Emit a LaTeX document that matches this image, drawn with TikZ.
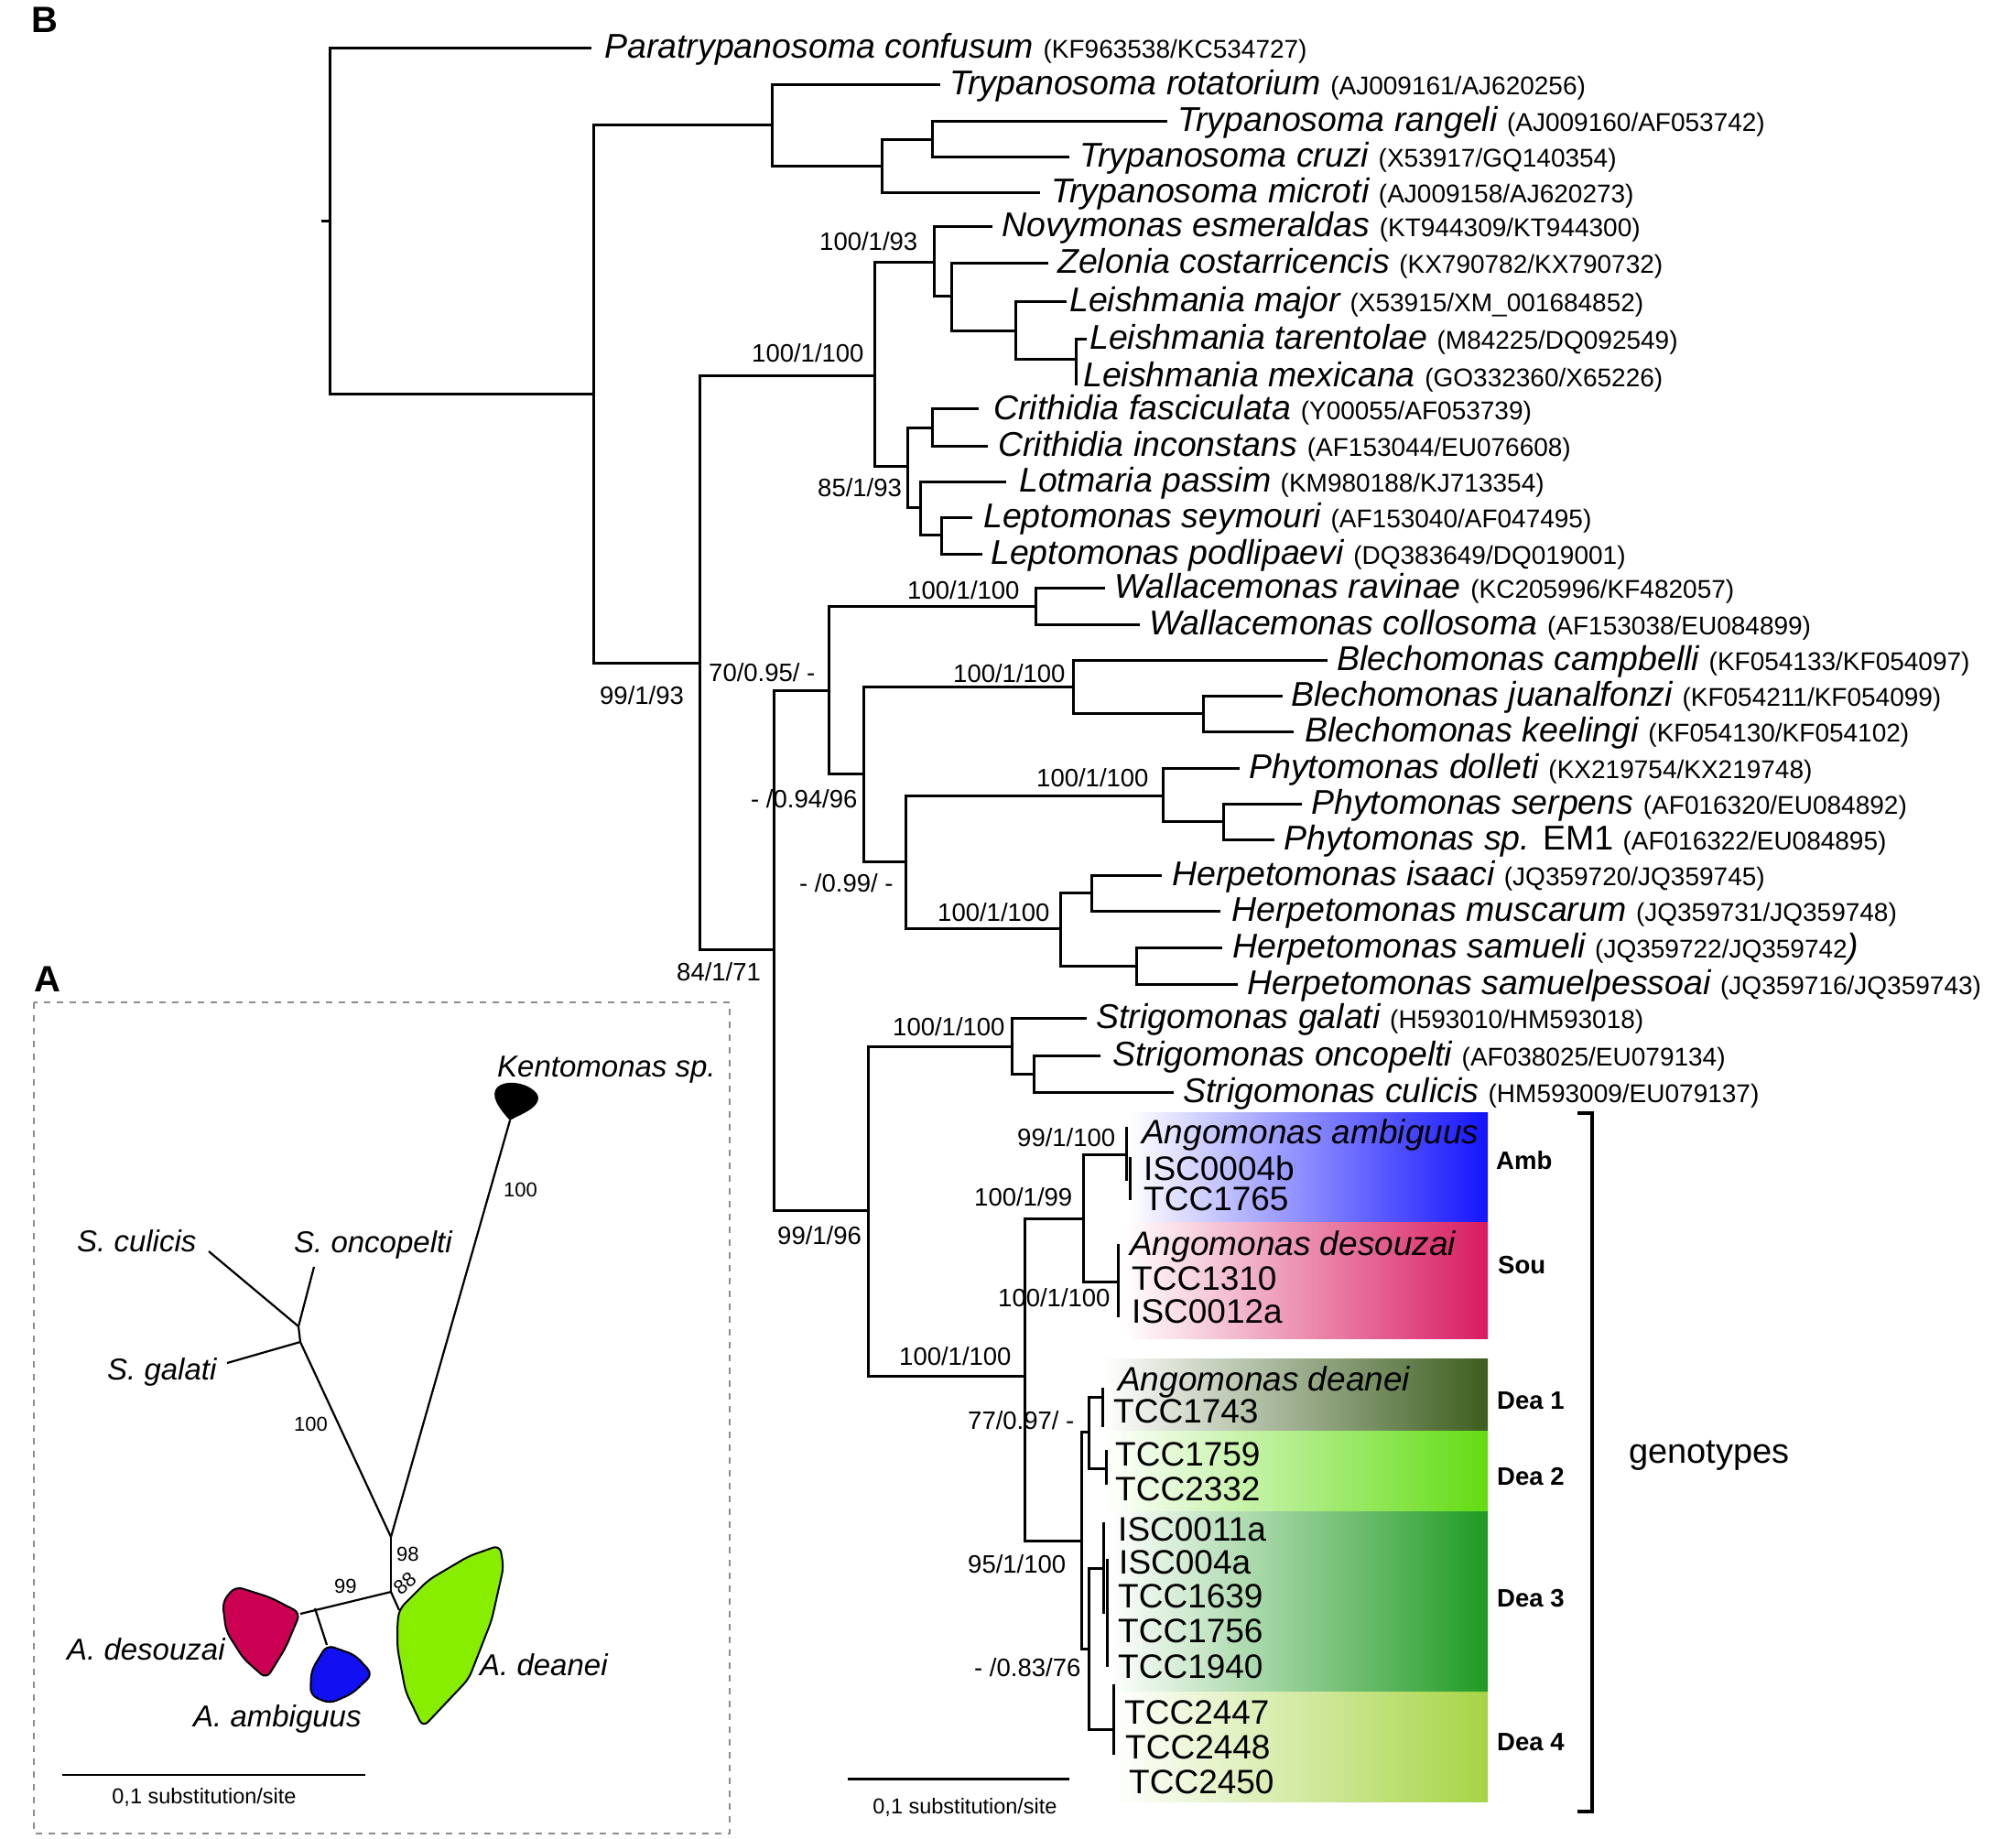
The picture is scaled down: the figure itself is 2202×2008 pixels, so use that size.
\documentclass[tikz,border=0pt]{standalone}
\usepackage{fontspec}
\setmainfont{Liberation Sans}
\newcommand\SpF{\fontsize{37.5}{42}\selectfont\itshape}
\newcommand\AcF{\fontsize{28}{32}\selectfont\upshape}
\newcommand\SupF{\fontsize{27.5}{30}\selectfont}
\newcommand\StrF{\fontsize{37}{40}\selectfont}
\newcommand\BoxLabF{\fontsize{27.5}{30}\selectfont\bfseries}
\newcommand\ApF{\fontsize{33}{36}\selectfont\itshape}
\newcommand\AnF{\fontsize{22}{24}\selectfont}
\newcommand\ScF{\fontsize{23.5}{26}\selectfont}
\definecolor{cAmb}{HTML}{1414FF}
\definecolor{cSou}{HTML}{D81B60}
\definecolor{cDeaA}{HTML}{3D5E1F}
\definecolor{cDeaB}{HTML}{62DC12}
\definecolor{cDeaC}{HTML}{1F9A22}
\definecolor{cDeaD}{HTML}{A6D445}
\definecolor{bDes}{HTML}{CC0052}
\definecolor{bAmb}{HTML}{1010F0}
\definecolor{bDea}{HTML}{88EE00}
\tikzset{
  br/.style={line width=3pt, line join=miter},
  abr/.style={line width=2.2pt, line join=round},
  leaflab/.style={anchor=base west, inner sep=0pt, yshift=-11pt},
  suplab/.style={anchor=base west, inner sep=0pt, yshift=-10pt, font=\SupF},
  strain/.style={anchor=base west, inner sep=0pt, font=\StrF},
  boxlab/.style={anchor=base west, inner sep=0pt, yshift=-10pt, font=\BoxLabF},
  aspec/.style={anchor=base west, inner sep=0pt, font=\ApF},
  anum/.style={anchor=base west, inner sep=0pt, font=\AnF},
  blob/.style={draw=black, line width=2pt, rounded corners=8pt},
}
\begin{document}
\begin{tikzpicture}[x=1pt,y=-1pt]
\useasboundingbox (0,0) rectangle (2202,2008);

% ---------- panel labels
\node[font=\fontsize{40}{40}\selectfont\bfseries, inner sep=0pt] (labB) at (49,22) {B};
\node[font=\fontsize{40}{40}\selectfont\bfseries, inner sep=0pt] (labA) at (52,1070) {A};

% ---------- genotype boxes
\shade[left color=white,right color=cAmb] (1233,1215) rectangle (1625,1334);
\shade[left color=white,right color=cSou] (1228,1335) rectangle (1625,1462);
\shade[left color=white,right color=cDeaA] (1205,1484) rectangle (1625,1563);
\shade[left color=white,right color=cDeaB] (1208,1563) rectangle (1625,1651);
\shade[left color=white,right color=cDeaC] (1212,1651) rectangle (1625,1848);
\shade[left color=white,right color=cDeaD] (1218,1848) rectangle (1625,1968);

% ---------- tree B coordinates
\coordinate (root) at (360,241);
\coordinate (rtick) at (351,241);
\coordinate (para) at (646,52);
\coordinate (n1) at (648,430);
\coordinate (nT) at (843,136);
\coordinate (rot) at (1027,92);
\coordinate (nT2) at (963,181);
\coordinate (nT3) at (1018,152);
\coordinate (ran) at (1275,132);
\coordinate (cru) at (1168,171);
\coordinate (mic) at (1136,210);
\coordinate (nL) at (764,724);
\coordinate (nLe) at (955,410);
\coordinate (nNZ) at (1020,286);
\coordinate (nov) at (1084,247);
\coordinate (nZL) at (1039,323);
\coordinate (zel) at (1145,287);
\coordinate (nLs) at (1109,361);
\coordinate (maj) at (1165,329);
\coordinate (nLt) at (1175,392);
\coordinate (tar) at (1187,370);
\coordinate (mex) at (1175,421);
\coordinate (nCL) at (991,509);
\coordinate (nCr) at (1018,467);
\coordinate (fas) at (1069,446);
\coordinate (inc) at (1079,487);
\coordinate (nLP) at (1005,554);
\coordinate (lot) at (1099,526);
\coordinate (nLep) at (1028,584);
\coordinate (sey) at (1062,565);
\coordinate (pod) at (1073,605);
\coordinate (nR) at (845,1037);
\coordinate (nWBP) at (905,754);
\coordinate (nW) at (1131,662);
\coordinate (rav) at (1207,642);
\coordinate (col) at (1245,682);
\coordinate (nBP) at (943,845);
\coordinate (nB) at (1172,750);
\coordinate (cam) at (1450,721);
\coordinate (nB2) at (1314,779);
\coordinate (jua) at (1401,760);
\coordinate (kee) at (1413,799);
\coordinate (nPH) at (989,941);
\coordinate (nP) at (1270,869);
\coordinate (dol) at (1354,839);
\coordinate (nP2) at (1336,897);
\coordinate (ser) at (1422,878);
\coordinate (em) at (1392,917);
\coordinate (nH) at (1158,1014);
\coordinate (nH1) at (1192,975);
\coordinate (isa) at (1269,956);
\coordinate (mus) at (1333,995);
\coordinate (nH2) at (1241,1055);
\coordinate (sam) at (1335,1035);
\coordinate (pes) at (1352,1075);
\coordinate (nSA) at (948,1322);
\coordinate (nS) at (1105,1143);
\coordinate (gal) at (1187,1112);
\coordinate (nS2) at (1129,1173);
\coordinate (onc) at (1202,1153);
\coordinate (cul) at (1282,1193);
\coordinate (nA) at (1119,1503);
\coordinate (nAS) at (1183,1331);
\coordinate (nAmb) at (1230,1261);
\coordinate (nSou) at (1221,1400);
\coordinate (nD) at (1181,1683);
\coordinate (nD12) at (1189,1564);
\coordinate (nD34) at (1189,1801);
\coordinate (nD1) at (1204,1526);
\coordinate (nD2) at (1208,1604);
\coordinate (nD3) at (1204,1713);
\coordinate (nD4) at (1216,1889);

% ---------- tree B branches
\draw[br] (rtick) -- (root);
\draw[br] (root) |- (para);
\draw[br] (root) |- (n1);
\draw[br] (n1) |- (nT);
\draw[br] (n1) |- (nL);
\draw[br] (nT) |- (rot);
\draw[br] (nT) |- (nT2);
\draw[br] (nT2) |- (nT3);
\draw[br] (nT2) |- (mic);
\draw[br] (nT3) |- (ran);
\draw[br] (nT3) |- (cru);
\draw[br] (nL) |- (nLe);
\draw[br] (nL) |- (nR);
\draw[br] (nLe) |- (nNZ);
\draw[br] (nLe) |- (nCL);
\draw[br] (nNZ) |- (nov);
\draw[br] (nNZ) |- (nZL);
\draw[br] (nZL) |- (zel);
\draw[br] (nZL) |- (nLs);
\draw[br] (nLs) |- (maj);
\draw[br] (nLs) |- (nLt);
\draw[br] (nLt) |- (tar);
\draw[br] (nLt) -- (mex);
\draw[br] (nCL) |- (nCr);
\draw[br] (nCL) |- (nLP);
\draw[br] (nCr) |- (fas);
\draw[br] (nCr) |- (inc);
\draw[br] (nLP) |- (lot);
\draw[br] (nLP) |- (nLep);
\draw[br] (nLep) |- (sey);
\draw[br] (nLep) |- (pod);
\draw[br] (nR) |- (nWBP);
\draw[br] (nR) |- (nSA);
\draw[br] (nWBP) |- (nW);
\draw[br] (nWBP) |- (nBP);
\draw[br] (nW) |- (rav);
\draw[br] (nW) |- (col);
\draw[br] (nBP) |- (nB);
\draw[br] (nBP) |- (nPH);
\draw[br] (nB) |- (cam);
\draw[br] (nB) |- (nB2);
\draw[br] (nB2) |- (jua);
\draw[br] (nB2) |- (kee);
\draw[br] (nPH) |- (nP);
\draw[br] (nPH) |- (nH);
\draw[br] (nP) |- (dol);
\draw[br] (nP) |- (nP2);
\draw[br] (nP2) |- (ser);
\draw[br] (nP2) |- (em);
\draw[br] (nH) |- (nH1);
\draw[br] (nH) |- (nH2);
\draw[br] (nH1) |- (isa);
\draw[br] (nH1) |- (mus);
\draw[br] (nH2) |- (sam);
\draw[br] (nH2) |- (pes);
\draw[br] (nSA) |- (nS);
\draw[br] (nSA) |- (nA);
\draw[br] (nS) |- (gal);
\draw[br] (nS) |- (nS2);
\draw[br] (nS2) |- (onc);
\draw[br] (nS2) |- (cul);
\draw[br] (nA) |- (nAS);
\draw[br] (nA) |- (nD);
\draw[br] (nAS) |- (nAmb);
\draw[br] (nAS) |- (nSou);
\draw[br] (nD) |- (nD12);
\draw[br] (nD) |- (nD34);
\draw[br] (nD12) |- (nD1);
\draw[br] (nD12) |- (nD2);
\draw[br] (nD34) |- (nD3);
\draw[br] (nD34) |- (nD4);
% collapsed terminal groups
\draw[br] ([yshift=-29pt]nAmb) -- ([yshift=30pt]nAmb);
\draw[br] (1234,1264) -- (1234,1311);
\draw[br] ([yshift=-39pt]nSou) -- ([yshift=41pt]nSou);
\draw[br] ([yshift=-33pt]nD1) -- ([yshift=10pt]nD1);
\draw[br] ([yshift=-18pt]nD2) -- ([yshift=20pt]nD2);
\draw[br] (1205,1663) -- (1205,1763);
\draw[br] (1209,1703) -- (1209,1821);
\draw[br] ([yshift=-28pt]nD4) -- ([yshift=49pt]nD4);

% ---------- leaf labels
\node[leaflab] (lPara) at (660,52) {\SpF Paratrypanosoma confusum \AcF(KF963538/KC534727)};
\node[leaflab] (lRot) at (1037,92) {\SpF Trypanosoma rotatorium \AcF(AJ009161/AJ620256)};
\node[leaflab] (lRan) at (1286,132) {\SpF Trypanosoma rangeli \AcF(AJ009160/AF053742)};
\node[leaflab] (lCru) at (1179,171) {\SpF Trypanosoma cruzi \AcF(X53917/GQ140354)};
\node[leaflab] (lMic) at (1148,210) {\SpF Trypanosoma microti \AcF(AJ009158/AJ620273)};
\node[leaflab] (lNov) at (1094,247) {\SpF Novymonas esmeraldas \AcF(KT944309/KT944300)};
\node[leaflab] (lZel) at (1155,287) {\SpF Zelonia costarricencis \AcF(KX790782/KX790732)};
\node[leaflab] (lMaj) at (1168,329) {\SpF Leishmania major \AcF(X53915/XM\_001684852)};
\node[leaflab] (lTar) at (1190,370) {\SpF Leishmania tarentolae \AcF(M84225/DQ092549)};
\node[leaflab] (lMex) at (1183,411) {\SpF Leishmania mexicana \AcF(GO332360/X65226)};
\node[leaflab] (lFas) at (1085,447) {\SpF Crithidia fasciculata \AcF(Y00055/AF053739)};
\node[leaflab] (lInc) at (1090,487) {\SpF Crithidia inconstans \AcF(AF153044/EU076608)};
\node[leaflab] (lLot) at (1113,526) {\SpF Lotmaria passim \AcF(KM980188/KJ713354)};
\node[leaflab] (lSey) at (1074,565) {\SpF Leptomonas seymouri \AcF(AF153040/AF047495)};
\node[leaflab] (lPod) at (1082,605) {\SpF Leptomonas podlipaevi \AcF(DQ383649/DQ019001)};
\node[leaflab] (lRav) at (1217,642) {\SpF Wallacemonas ravinae \AcF(KC205996/KF482057)};
\node[leaflab] (lCol) at (1255,682) {\SpF Wallacemonas collosoma \AcF(AF153038/EU084899)};
\node[leaflab] (lCam) at (1460,721) {\SpF Blechomonas campbelli \AcF(KF054133/KF054097)};
\node[leaflab] (lJua) at (1410,760) {\SpF Blechomonas juanalfonzi \AcF(KF054211/KF054099)};
\node[leaflab] (lKee) at (1425,799) {\SpF Blechomonas keelingi \AcF(KF054130/KF054102)};
\node[leaflab] (lDol) at (1364,839) {\SpF Phytomonas dolleti \AcF(KX219754/KX219748)};
\node[leaflab] (lSer) at (1432,878) {\SpF Phytomonas serpens \AcF(AF016320/EU084892)};
\node[leaflab] (lEm) at (1402,917) {\SpF Phytomonas sp. \upshape EM1 \AcF(AF016322/EU084895)};
\node[leaflab] (lIsa) at (1280,956) {\SpF Herpetomonas isaaci \AcF(JQ359720/JQ359745)};
\node[leaflab] (lMus) at (1345,995) {\SpF Herpetomonas muscarum \AcF(JQ359731/JQ359748)};
\node[leaflab] (lSam) at (1346,1035) {\SpF Herpetomonas samueli \AcF(JQ359722/JQ359742{\SpF)}};
\node[leaflab] (lPes) at (1362,1075) {\SpF Herpetomonas samuelpessoai \AcF(JQ359716/JQ359743)};
\node[leaflab] (lGal) at (1197,1112) {\SpF Strigomonas galati \AcF(H593010/HM593018)};
\node[leaflab] (lOnc) at (1215,1153) {\SpF Strigomonas oncopelti \AcF(AF038025/EU079134)};
\node[leaflab] (lCul) at (1292,1193) {\SpF Strigomonas culicis \AcF(HM593009/EU079137)};

% ---------- strain labels in boxes
\node[strain] (sA0) at (1247,1249) {\itshape Angomonas ambiguus};
\node[strain] (sA1) at (1249,1289) {ISC0004b};
\node[strain] (sA2) at (1249,1322) {TCC1765};
\node[strain] (sS0) at (1234,1371) {\itshape Angomonas desouzai};
\node[strain] (sS1) at (1236,1409) {TCC1310};
\node[strain] (sS2) at (1236,1445) {ISC0012a};
\node[strain] (sD0) at (1221,1519) {\itshape Angomonas deanei};
\node[strain] (sD1) at (1216,1554) {TCC1743};
\node[strain] (sD2) at (1218,1601) {TCC1759};
\node[strain] (sD3) at (1218,1639) {TCC2332};
\node[strain] (sD4) at (1221,1683) {ISC0011a};
\node[strain] (sD5) at (1222,1719) {ISC004a};
\node[strain] (sD6) at (1221,1756) {TCC1639};
\node[strain] (sD7) at (1221,1794) {TCC1756};
\node[strain] (sD8) at (1221,1833) {TCC1940};
\node[strain] (sD9) at (1228,1883) {TCC2447};
\node[strain] (sD10) at (1229,1921) {TCC2448};
\node[strain] (sD11) at (1233,1959) {TCC2450};

% ---------- box labels and bracket
\node[boxlab] (bAmb) at (1634,1267) {Amb};
\node[boxlab] (bSou) at (1636,1381) {Sou};
\node[boxlab] (bD1) at (1635,1529) {Dea 1};
\node[boxlab] (bD2) at (1635,1612) {Dea 2};
\node[boxlab] (bD3) at (1635,1745) {Dea 3};
\node[boxlab] (bD4) at (1635,1902) {Dea 4};
\coordinate (brT0) at (1723,1216);
\coordinate (brT) at (1739,1216);
\coordinate (brB) at (1739,1979);
\coordinate (brB0) at (1723,1979);
\draw[line width=3.5pt, line join=miter] (brT0) -- (brT) -- (brB) -- (brB0);
\node[anchor=base west, inner sep=0pt, font=\fontsize{38}{40}\selectfont] (geno) at (1779,1598) {genotypes};

% ---------- support values
\node[suplab] (s1) at (895,263) {100/1/93};
\node[suplab] (s2) at (821,385) {100/1/100};
\node[suplab] (s3) at (893,532) {85/1/93};
\node[suplab] (s4) at (655,759) {99/1/93};
\node[suplab] (s5) at (991,644) {100/1/100};
\node[suplab] (s6) at (774,734) {70/0.95/ -};
\node[suplab] (s7) at (1041,735) {100/1/100};
\node[suplab] (s8) at (820,872) {- /0.94/96};
\node[suplab] (s9) at (1132,849) {100/1/100};
\node[suplab] (s10) at (873,964) {- /0.99/ -};
\node[suplab] (s11) at (1024,996) {100/1/100};
\node[suplab] (s12) at (739,1061) {84/1/71};
\node[suplab] (s13) at (975,1121) {100/1/100};
\node[suplab] (s14) at (849,1349) {99/1/96};
\node[suplab] (s15) at (1111,1242) {99/1/100};
\node[suplab] (s16) at (1064,1307) {100/1/99};
\node[suplab] (s17) at (1090,1417) {100/1/100};
\node[suplab] (s18) at (982,1481) {100/1/100};
\node[suplab] (s19) at (1057,1551) {77/0.97/ -};
\node[suplab] (s20) at (1057,1708) {95/1/100};
\node[suplab] (s21) at (1064,1821) {- /0.83/76};

% ---------- scale bar B
\coordinate (sbL) at (926,1943);
\coordinate (sbR) at (1168,1943);
\draw[line width=3pt] (sbL) -- (sbR);
\node[anchor=base, inner sep=0pt, font=\ScF] (sbT) at (1054,1981) {0,1 substitution/site};

% ---------- panel A
\draw[draw=black!45, line width=1.6pt, dash pattern=on 7pt off 7pt] (37,1095) rectangle (797,2003);

\coordinate (kTip) at (557,1224);
\coordinate (j1) at (427,1679);
\coordinate (j2) at (427,1739);
\coordinate (sN1) at (326,1449);
\coordinate (sN2) at (328,1466);
\coordinate (culE) at (228,1367);
\coordinate (oncE) at (343,1384);
\coordinate (galE) at (248,1489);
\coordinate (desC) at (328,1763);
\coordinate (ambJ) at (344,1757);
\coordinate (ambT) at (357,1797);
\coordinate (deaT) at (436,1759);

\draw[abr] (kTip) -- (j1);
\draw[abr] (culE) -- (sN1);
\draw[abr] (oncE) -- (sN1);
\draw[abr] (sN1) -- (sN2);
\draw[abr] (galE) -- (sN2);
\draw[abr] (sN2) -- (j1);
\draw[abr] (j1) -- (j2);
\draw[abr] (j2) -- (desC);
\draw[abr] (ambJ) -- (ambT);
\draw[abr] (j2) -- (deaT);

\fill (kTip) .. controls (548,1214) and (537,1201) .. (541,1191)
  .. controls (545,1181) and (566,1180) .. (580,1189)
  .. controls (591,1196) and (589,1203) .. (583,1209)
  .. controls (575,1216) and (565,1219) .. (kTip) -- cycle;
\draw[blob, fill=bDes] (257,1733) -- (295,1745) -- (328,1762) -- (312,1800) -- (291,1834)
  -- (266,1812) -- (247,1782) -- (243,1750) -- cycle;
\draw[blob, fill=bAmb] (357,1797) -- (388,1808) -- (407,1829) -- (385,1850) -- (360,1861)
  -- (339,1852) -- (340,1825) -- cycle;
\draw[blob, fill=bDea] (436,1758) -- (468,1726) -- (512,1700) -- (546,1688) -- (550,1712)
  -- (537,1770) -- (512,1834) -- (462,1887) -- (443,1848) -- (434,1800) -- (434,1775) -- cycle;

\node[aspec] (tKen) at (543,1176) {Kentomonas sp.};
\node[aspec] (tCul) at (84,1367) {S. culicis};
\node[aspec] (tOnc) at (321,1368) {S. oncopelti};
\node[aspec] (tGal) at (117,1507) {S. galati};
\node[aspec] (tDes) at (73,1813) {A. desouzai};
\node[aspec] (tAmb) at (211,1886) {A. ambiguus};
\node[aspec] (tDea) at (524,1830) {A. deanei};

\node[anum] (a100k) at (550,1307) {100};
\node[anum] (a100s) at (321,1563) {100};
\node[anum] (a98) at (433,1705) {98};
\node[anum] (a99) at (365,1740) {99};
\node[font=\AnF, inner sep=0pt, rotate=40] (a88) at (442,1730) {88};

\coordinate (asbL) at (68,1939);
\coordinate (asbR) at (399,1939);
\draw[line width=2.2pt] (asbL) -- (asbR);
\node[anchor=base, inner sep=0pt, font=\ScF] (asbT) at (223,1970) {0,1 substitution/site};
\end{tikzpicture}
\end{document}
